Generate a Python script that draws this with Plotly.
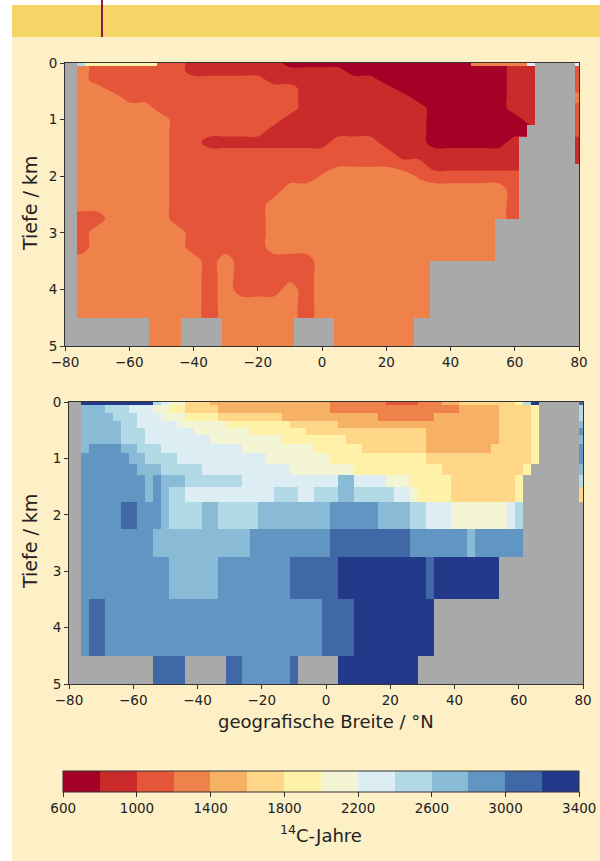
import numpy as np
import plotly.graph_objects as go

N = None

# ---------------- colour classes (14C ages, years) ----------------
levels = [600, 800, 1000, 1200, 1400, 1600, 1800, 2000, 2200, 2400, 2600, 2800, 3000, 3200, 3400]
class_colors = ['#a50026', '#cb2a2b', '#e5553a', '#ef824b', '#f6b165', '#fdd687', '#fef2a9',
                '#f2f4d4', '#dcedf3', '#b2dae6', '#89bbd6', '#6196c2', '#4068a7', '#233a8b']
cbar_ticks = [600, 1000, 1400, 1800, 2200, 2600, 3000, 3400]
x_ticks = [-80, -60, -40, -20, 0, 20, 40, 60, 80]
y_ticks = [0, 1, 2, 3, 4, 5]

# ---------------- lower panel: gridded data (2.5 deg cells) ----------------
lat_centers = np.arange(-80, 80.01, 2.5)           # 65 columns
depth_edges = [0, 0.06, 0.2, 0.33, 0.46, 0.59, 0.74, 0.91, 1.1, 1.3, 1.5, 1.78,
               2.25, 2.75, 3.5, 4.5, 5.5]

obs_rows = [
    [N]*2 + [3300]*9 + [2500] + [2300] + [2100]*2 + [1700]*3 + [1500]*15 + [1300]*7 + [1100]*4 + [1300]*3 + [1500]*2 + [1700]*7 + [1900] + [2500] + [3300] + [N]*5 + [3100],
    [N]*2 + [2700]*3 + [2500]*3 + [2300]*3 + [2100]*2 + [1900]*2 + [1700]*4 + [1500]*14 + [1300]*16 + [1500]*5 + [1700]*4 + [1900] + [N]*5 + [2500],
    [N]*2 + [2700]*4 + [2500]*3 + [2300]*3 + [2100]*3 + [1900]*4 + [1700]*8 + [1500]*12 + [1300]*7 + [1500]*8 + [1700]*4 + [1900] + [N]*5 + [2500],
    [N]*2 + [2700]*5 + [2500]*2 + [2300]*5 + [2100]*6 + [1900]*8 + [1700]*6 + [1500]*20 + [1700]*4 + [1900] + [N]*5 + [2700],
    [N]*2 + [2700]*5 + [2500]*3 + [2300]*6 + [2100]*7 + [1900]*7 + [1700]*15 + [1500]*9 + [1700]*4 + [1900] + [N]*5 + [2900],
    [N]*2 + [2700]*5 + [2500]*3 + [2300]*8 + [2100]*9 + [1900]*8 + [1700]*10 + [1500]*9 + [1700]*4 + [1900] + [N]*5 + [2700],
    [N]*2 + [2700] + [2900]*4 + [2700]*2 + [2500]*3 + [2300]*10 + [2100]*9 + [1900]*6 + [1700]*8 + [1500]*8 + [1700]*5 + [1900] + [N]*5 + [2900],
    [N]*2 + [2900]*6 + [2700]*2 + [2500]*4 + [2300]*11 + [2100]*8 + [1900]*12 + [1700]*13 + [1900] + [N]*5 + [2900],
    [N]*2 + [2900]*7 + [2700]*3 + [2500]*5 + [2300]*11 + [2100]*8 + [1900]*11 + [1700]*10 + [1900] + [N]*6 + [2700],
    [N]*2 + [2900]*8 + [2700] + [2900] + [2700]*3 + [2500]*7 + [2300]*12 + [2700]*2 + [2300]*4 + [2100]*3 + [1900]*5 + [1700]*8 + [1900] + [N]*7 + [2500],
    [N]*2 + [2900]*8 + [2700] + [2900] + [2700] + [2500]*2 + [2300]*11 + [2500]*3 + [2300]*2 + [2500]*3 + [2700]*2 + [2500]*5 + [2300]*2 + [2100] + [1900]*4 + [1700]*8 + [1900] + [N]*7 + [1700],
    [N]*2 + [2900]*5 + [3100]*2 + [2900]*3 + [2700] + [2500]*4 + [2700]*2 + [2500]*5 + [2700]*9 + [2900]*6 + [2700]*4 + [2500]*2 + [2300]*3 + [2100]*7 + [2300] + [2500] + [N]*8,
    [N]*2 + [2900]*9 + [2700]*12 + [2900]*10 + [3100]*10 + [2900]*7 + [2700] + [2900]*6 + [N]*8,
    [N]*2 + [2900]*11 + [2700]*6 + [2900]*9 + [3100]*6 + [3300]*11 + [3100] + [3300]*8 + [N]*11,
    [N]*2 + [2900] + [3100]*2 + [2900]*27 + [3100]*4 + [3300]*10 + [N]*19,
    [N]*11 + [3100]*4 + [N]*5 + [3100]*2 + [2900]*6 + [3100] + [N]*5 + [3300]*10 + [N]*21,
]

# ---------------- upper panel: model field on a coarse grid ----------------
model_lats = np.arange(-80, 80.01, 5)               # 33 columns
model_depths = [0, 0.15, 0.3, 0.45, 0.6, 0.8, 1.0, 1.2, 1.4, 1.6, 1.8, 2.0, 2.25, 2.5,
                2.75, 3.0, 3.25, 3.5, 3.75, 4.0, 4.25, 4.5, 5.0]
model_rows = [
    [1300]*2 + [1100]*6 + [900]*6 + [700]*14 + [900]*3 + [1100]*2,
    [1300]*2 + [1100]*6 + [900]*10 + [700]*10 + [900]*3 + [1100]*2,
    [1300]*2 + [1100]*11 + [900]*7 + [700]*8 + [900]*3 + [1100]*2,
    [1300]*3 + [1100]*12 + [900]*6 + [700]*7 + [900]*3 + [1100]*2,
    [1300]*4 + [1100]*11 + [900]*7 + [700]*6 + [900]*3 + [1300]*2,
    [1300]*6 + [1100]*9 + [900]*8 + [700]*5 + [900]*3 + [1100]*2,
    [1300]*7 + [1100]*7 + [900]*9 + [700]*6 + [900]*2 + [1100]*2,
    [1300]*7 + [1100]*6 + [900]*10 + [700]*8 + [1100]*2,
    [1300]*7 + [1100]*2 + [900]*8 + [1100]*3 + [900]*3 + [700]*5 + [900]*5,
    [1300]*7 + [1100]*14 + [900]*12,
    [1300]*7 + [1100]*10 + [1180]*4 + [1100]*2 + [900]*10,
    [1300]*7 + [1100]*9 + [1220] + [1300]*5 + [1180] + [1100]*8 + [900]*2,
    [1300]*7 + [1100]*7 + [1300]*14 + [1100]*3 + [900]*2,
    [1300]*7 + [1100]*6 + [1300]*15 + [1100]*3 + [900]*2,
    [1100]*3 + [1300]*4 + [1100]*6 + [1300]*15 + [1100]*3 + [900]*2,
    [1100]*2 + [1300]*6 + [1100]*5 + [1300]*20,
    [1100]*2 + [1300]*6 + [1100]*5 + [1300]*20,
    [1300]*9 + [1100] + [1300] + [1100]*5 + [1300]*17,
    [1300]*9 + [1100] + [1300] + [1100]*5 + [1300]*17,
    [1300]*9 + [1100] + [1300] + [1100]*3 + [1300] + [1100] + [1300]*17,
    [1300]*9 + [1100] + [1300]*5 + [1100] + [1300]*17,
    [1300]*9 + [1100] + [1300]*5 + [1100] + [1300]*17,
    [1300]*33,
]
# thin surface layer of the model (0-50 m), on the 2.5 deg grid; None = as below
model_surface_edges = [0, 0.05]
model_surface = [N]*2 + [2500] + [1900]*9 + [N]*39 + [1300]*7 + [2300] + [N]*5 + [2300]

# ---------------- styling ----------------
W, H = 600, 861
CREAM = '#fdefc6'
GRAY = '#a9a9a9'
FONT = 'DejaVu Sans'
INK = '#222222'

lat_edges = list(lat_centers - 1.25) + [lat_centers[-1] + 1.25]

nc = len(class_colors)
disc_scale = []
for i, c in enumerate(class_colors):
    disc_scale.append([i / nc, c])
    disc_scale.append([(i + 1) / nc, c])
# contour fills are sampled at level + size/2 over [start - size/2, end + size/2]
cont_scale = [[0, class_colors[0]]]
for i, c in enumerate(class_colors):
    cont_scale.append([(i + 1) / (nc + 1), c])
cont_scale.append([1, class_colors[-1]])

land_mask = [[1 if v is None else None for v in row] for row in obs_rows]

fig = go.Figure()

fig.add_trace(go.Contour(
    x=model_lats, y=model_depths, z=model_rows,
    autocontour=False,
    contours=dict(start=levels[0], end=levels[-1], size=levels[1] - levels[0],
                  coloring='fill', showlines=False),
    line=dict(width=0), colorscale=cont_scale, showscale=False,
    hoverinfo='skip', xaxis='x', yaxis='y'))

# surface layer and land drawn on an overlaying subplot, above the contour fills
fig.add_trace(go.Heatmap(
    x=lat_edges, y=model_surface_edges, z=[model_surface], zmin=levels[0], zmax=levels[-1],
    colorscale=disc_scale, showscale=False, hoverinfo='skip', xaxis='x3', yaxis='y3'))

fig.add_trace(go.Heatmap(
    x=lat_edges, y=depth_edges, z=land_mask, zmin=0, zmax=1,
    colorscale=[[0, GRAY], [1, GRAY]], showscale=False, hoverinfo='skip',
    xaxis='x3', yaxis='y3'))

fig.add_trace(go.Heatmap(
    x=lat_edges, y=depth_edges, z=obs_rows, zmin=levels[0], zmax=levels[-1],
    colorscale=disc_scale, hoverinfo='skip', xaxis='x2', yaxis='y2',
    colorbar=dict(orientation='h', x=(63.5 + 579) / 2 / W, xanchor='center',
                  y=1 - 771 / H, yanchor='top', len=515.5 / W, lenmode='fraction',
                  thickness=21, thicknessmode='pixels', outlinewidth=1,
                  outlinecolor='#333333', tickvals=cbar_ticks, ticks='outside',
                  ticklen=5, tickcolor='#333333', xpad=0, ypad=0,
                  tickfont=dict(family=FONT, size=13.5, color=INK))))

axis_style = dict(showline=True, mirror=True, linecolor='#333333', linewidth=1,
                  ticks='outside', ticklen=4, tickcolor='#333333', showgrid=False,
                  zeroline=False, tickfont=dict(family=FONT, size=13.5, color=INK))


def label(text, x, y, size, angle=0):
    return dict(text=text, x=x / W, y=1 - y / H, xref='paper', yref='paper',
                xanchor='center', yanchor='middle', textangle=angle, showarrow=False,
                font=dict(family=FONT, size=size, color=INK))


fig.update_layout(
    width=W, height=H, autosize=False,
    margin=dict(l=0, r=0, t=0, b=0, pad=0, autoexpand=False),
    paper_bgcolor=CREAM, plot_bgcolor=GRAY,
    showlegend=False,
    xaxis=dict(domain=[65 / W, 579 / W], range=[-80, 80], tickvals=x_ticks, anchor='y', **axis_style),
    yaxis=dict(domain=[1 - 346 / H, 1 - 63 / H], range=[5, 0], tickvals=y_ticks, anchor='x', **axis_style),
    xaxis3=dict(overlaying='x', range=[-80, 80], visible=False, anchor='y3'),
    yaxis3=dict(overlaying='y', range=[5, 0], visible=False, anchor='x3'),
    xaxis2=dict(domain=[69 / W, 583 / W], range=[-80, 80], tickvals=x_ticks, anchor='y2', **axis_style),
    yaxis2=dict(domain=[1 - 684 / H, 1 - 402 / H], range=[5, 0], tickvals=y_ticks, anchor='x2', **axis_style),
    shapes=[
        dict(type='rect', xref='paper', yref='paper', x0=0, x1=12 / W, y0=0, y1=1,
             fillcolor='white', line=dict(width=0), layer='below'),
        dict(type='rect', xref='paper', yref='paper', x0=0, x1=1, y0=1 - 5 / H, y1=1,
             fillcolor='white', line=dict(width=0), layer='below'),
        dict(type='rect', xref='paper', yref='paper', x0=12 / W, x1=1, y0=1 - 37 / H, y1=1 - 5 / H,
             fillcolor='#f5d468', line=dict(width=0), layer='below'),
        dict(type='line', xref='paper', yref='paper', x0=102 / W, x1=102 / W, y0=1 - 37 / H, y1=1,
             line=dict(color='#8b1a38', width=2), layer='above'),
    ],
    annotations=[
        label('Tiefe / km', 30, 204, 19, -90),
        label('Tiefe / km', 30, 542, 19, -90),
        label('geografische Breite / °N', 326, 721, 18),
        label('<sup>14</sup>C-Jahre', 321, 834, 18),
    ],
)

fig.write_html('out.html', config={'responsive': False, 'displayModeBar': False},
               post_script="document.body.style.margin='0px';document.body.style.overflow='hidden';")
